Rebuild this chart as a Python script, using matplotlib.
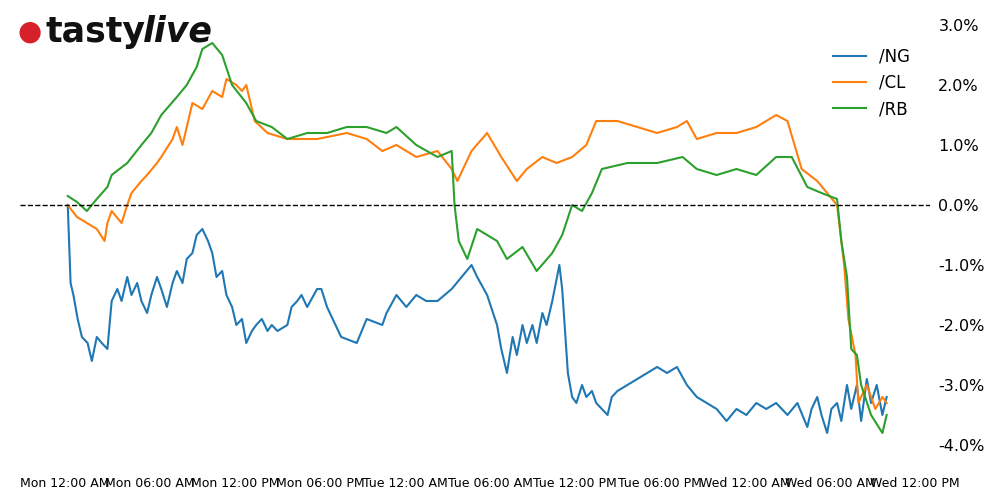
import matplotlib
matplotlib.use("Agg")
import matplotlib.pyplot as plt

tick_labels = ["Mon 12:00 AM","Mon 06:00 AM","Mon 12:00 PM","Mon 06:00 PM","Tue 12:00 AM",
               "Tue 06:00 AM","Tue 12:00 PM","Tue 06:00 PM","Wed 12:00 AM","Wed 06:00 AM","Wed 12:00 PM"]
y_ticks = [3,2,1,0,-1,-2,-3,-4]

ng_t = [0.2,0.4,0.6,0.9,1.2,1.6,1.9,2.25,2.6,3.0,3.3,3.7,4.0,4.4,4.7,5.1,5.4,5.8,6.1,6.5,6.8,7.2,7.6,7.9,8.3,8.6,9.0,9.3,9.7,10.1,10.4,10.7,11.1,11.4,11.8,12.1,12.5,12.8,13.2,13.5,13.9,14.3,14.6,15.0,15.7,16.0,16.4,16.7,17.1,17.8,18.1,18.5,19.5,20.6,21.3,22.4,22.7,23.4,24.1,24.8,25.5,26.3,27.3,28.0,28.7,29.1,29.8,30.5,30.8,31.2,31.6,31.9,32.3,32.6,33.0,33.3,33.7,34.0,34.4,34.9,35.1,35.5,35.8,36.1,36.5,36.8,37.2,37.5,37.9,38.3,38.6,39.0,39.7,40.4,41.1,41.8,42.5,43.2,43.9,44.6,45.3,46.0,46.7,47.4,48.1,48.8,49.5,50.2,51.0,51.7,52.4,52.7,53.1,53.4,53.8,54.1,54.5,54.8,55.2,55.5,55.9,56.2,56.6,56.9,57.3,57.7,58.0]
ng_v = [0.0,-1.3,-1.5,-1.9,-2.2,-2.3,-2.6,-2.2,-2.3,-2.4,-1.6,-1.4,-1.6,-1.2,-1.5,-1.3,-1.6,-1.8,-1.5,-1.2,-1.4,-1.7,-1.3,-1.1,-1.3,-0.9,-0.8,-0.5,-0.4,-0.6,-0.8,-1.2,-1.1,-1.5,-1.7,-2.0,-1.9,-2.3,-2.1,-2.0,-1.9,-2.1,-2.0,-2.1,-2.0,-1.7,-1.6,-1.5,-1.7,-1.4,-1.4,-1.7,-2.2,-2.3,-1.9,-2.0,-1.8,-1.5,-1.7,-1.5,-1.6,-1.6,-1.4,-1.2,-1.0,-1.2,-1.5,-2.0,-2.4,-2.8,-2.2,-2.5,-2.0,-2.3,-2.0,-2.3,-1.8,-2.0,-1.6,-1.0,-1.4,-2.8,-3.2,-3.3,-3.0,-3.2,-3.1,-3.3,-3.4,-3.5,-3.2,-3.1,-3.0,-2.9,-2.8,-2.7,-2.8,-2.7,-3.0,-3.2,-3.3,-3.4,-3.6,-3.4,-3.5,-3.3,-3.4,-3.3,-3.5,-3.3,-3.7,-3.4,-3.2,-3.5,-3.8,-3.4,-3.3,-3.6,-3.0,-3.4,-3.0,-3.6,-2.9,-3.3,-3.0,-3.5,-3.2]

cl_t = [0.2,0.85,1.55,2.25,2.8,3.0,3.3,4.0,4.4,4.7,5.4,5.8,6.5,6.8,7.6,7.9,8.3,8.6,9.0,9.7,10.4,11.1,11.4,12.1,12.5,12.8,13.2,13.4,14.3,15.7,17.8,19.9,21.3,22.4,23.4,24.8,26.3,27.3,27.7,28.7,29.8,30.8,31.9,32.6,33.7,34.7,35.8,36.8,37.5,39.0,40.4,41.8,43.2,43.9,44.6,46.0,47.4,48.8,50.2,51.0,52.0,53.1,53.8,54.5,55.0,55.3,55.8,56.0,56.6,57.2,57.7,58.0]
cl_v = [0.0,-0.2,-0.3,-0.4,-0.6,-0.3,-0.1,-0.3,0.0,0.2,0.4,0.5,0.7,0.8,1.1,1.3,1.0,1.3,1.7,1.6,1.9,1.8,2.1,2.0,1.9,2.0,1.6,1.4,1.2,1.1,1.1,1.2,1.1,0.9,1.0,0.8,0.9,0.6,0.4,0.9,1.2,0.8,0.4,0.6,0.8,0.7,0.8,1.0,1.4,1.4,1.3,1.2,1.3,1.4,1.1,1.2,1.2,1.3,1.5,1.4,0.6,0.4,0.2,0.0,-1.0,-1.9,-2.5,-3.3,-3.0,-3.4,-3.2,-3.3]

rb_t = [0.2,0.85,1.55,2.25,3.0,3.3,4.4,5.4,6.1,6.8,7.9,8.6,9.3,9.7,10.4,11.1,11.8,12.8,13.5,14.6,15.7,17.1,18.5,19.9,21.3,22.7,23.4,24.8,26.3,27.3,27.5,27.8,28.4,29.1,30.5,31.2,32.3,33.3,34.4,35.1,35.8,36.5,37.2,37.9,39.7,41.8,43.6,44.6,46.0,47.4,48.8,50.2,51.3,52.4,53.4,54.5,54.8,55.2,55.5,55.9,56.2,56.9,57.7,58.0]
rb_v = [0.15,0.05,-0.1,0.1,0.3,0.5,0.7,1.0,1.2,1.5,1.8,2.0,2.3,2.6,2.7,2.5,2.0,1.7,1.4,1.3,1.1,1.2,1.2,1.3,1.3,1.2,1.3,1.0,0.8,0.9,0.0,-0.6,-0.9,-0.4,-0.6,-0.9,-0.7,-1.1,-0.8,-0.5,0.0,-0.1,0.2,0.6,0.7,0.7,0.8,0.6,0.5,0.6,0.5,0.8,0.8,0.3,0.2,0.1,-0.6,-1.2,-2.4,-2.5,-3.0,-3.5,-3.8,-3.5]

fig = plt.figure(figsize=(10, 4.9), dpi=100)
ax = fig.add_axes([0.02, 35/490, 0.91, 440/490])
ax.plot(ng_t, ng_v, color="#1f77b4", lw=1.5, label="/NG")
ax.plot(cl_t, cl_v, color="#ff7f0e", lw=1.5, label="/CL")
ax.plot(rb_t, rb_v, color="#2ca02c", lw=1.5, label="/RB")
ax.axhline(0, color="black", ls="--", lw=1)
ax.set_xlim(-3.17, 61.06)
ax.set_ylim(-4.167, 3.167)
for s in ax.spines.values():
    s.set_visible(False)
ax.set_xticks(range(0, 61, 6))
ax.set_xticklabels(tick_labels, fontsize=9)
ax.tick_params(axis="x", length=0, pad=16)
ax.yaxis.tick_right()
ax.set_yticks(y_ticks)
ax.set_yticklabels([f"{v:.1f}%" for v in y_ticks], fontsize=11.5)
ax.tick_params(axis="y", length=0, pad=6)
ax.legend(loc="upper right", bbox_to_anchor=(0.995, 0.96), frameon=False, fontsize=12, handlelength=2)

fig.text(0.03, 0.935, "\u25CF", color="#d6202a", fontsize=20, ha="center", va="center")
fig.text(0.045, 0.935, "tasty", fontsize=25, fontweight="bold", ha="left", va="center", color="#111111")
fig.text(0.143, 0.935, "live", fontsize=25, fontweight="bold", style="italic", ha="left", va="center", color="#111111")
fig.savefig("out.png", dpi=100)
